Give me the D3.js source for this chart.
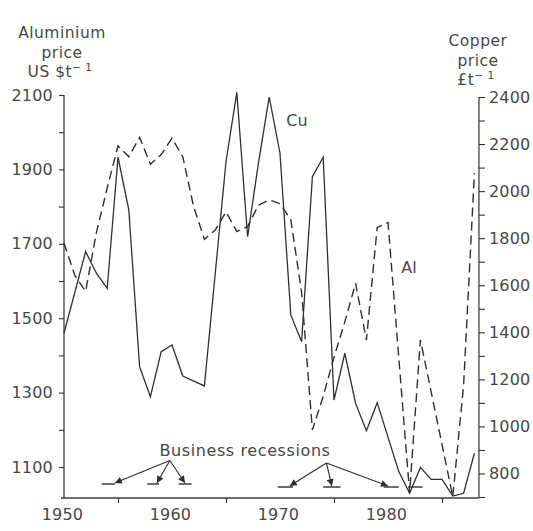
<!DOCTYPE html>
<html>
<head>
<meta charset="utf-8">
<script src="https://cdn.jsdelivr.net/npm/d3@7"></script>
<style>
  html, body { margin: 0; padding: 0; background: #fff; }
  svg { display: block; }
  text { font-family: "DejaVu Sans", "Liberation Sans", sans-serif; fill: #474747; }
</style>
</head>
<body>
<svg id="chart" width="533" height="531"></svg>
<script>
// Copper price (£ per tonne), read on the right-hand axis
const cuYears = [1950, 1952, 1953, 1954, 1955, 1956, 1957, 1958, 1959, 1960, 1961, 1963, 1965, 1966, 1967, 1968, 1969, 1970, 1971, 1972, 1973, 1974, 1975, 1976, 1977, 1978, 1979, 1981, 1982, 1983, 1984, 1985, 1986, 1987, 1988];
const cuPrice = [1396, 1743, 1651, 1587, 2144, 1920, 1254, 1126, 1318, 1346, 1214, 1172, 2125, 2420, 1806, 2118, 2400, 2161, 1474, 1360, 2061, 2144, 1112, 1311, 1098, 982, 1101, 808, 716, 826, 775, 775, 704, 716, 886];

// Aluminium price (US $ per tonne), read on the left-hand axis
const alYears = [1950, 1951, 1952, 1953, 1954, 1955, 1956, 1957, 1958, 1959, 1960, 1961, 1962, 1963, 1964, 1965, 1966, 1967, 1968, 1969, 1970, 1971, 1972, 1973, 1974, 1975, 1976, 1977, 1978, 1979, 1980, 1982, 1983, 1986, 1987, 1988];
const alPrice = [1702, 1615, 1572, 1730, 1850, 1963, 1934, 1986, 1914, 1940, 1984, 1934, 1800, 1712, 1737, 1786, 1733, 1746, 1804, 1818, 1808, 1765, 1570, 1200, 1290, 1395, 1490, 1594, 1441, 1744, 1757, 1030, 1442, 1020, 1320, 1890];

// Business recessions (years)
const recessionStart  = [1953.5, 1957.7, 1960.6, 1969.8, 1974.0, 1979.6, 1981.9];
const recessionEnd    = [1954.7, 1958.8, 1961.8, 1971.2, 1975.6, 1981.0, 1983.2];
const recessionArrow  = [1954.7, 1958.6, 1961.2, 1970.9, 1974.8, 1980.0, null];
const recessionGroup  = [0, 0, 0, 1, 1, 1, 1];
const groupApexYear   = [1959.8, 1974.3];

// Axis ticks and labels
const xLabelYears = [1950, 1960, 1970, 1980];
const xMinorYears = [1955, 1965, 1975, 1985];
const alTicks  = d3.range(1100, 2101, 100);
const alLabels = [1100, 1300, 1500, 1700, 1900, 2100];
const cuTicks  = d3.range(700, 2401, 100);
const cuLabels = [800, 1000, 1200, 1400, 1600, 1800, 2000, 2200, 2400];

const svg = d3.select("#chart");
const ink = "#2f2f2f";
const textInk = "#474747";

const x   = d3.scaleLinear().domain([1950, 1988]).range([64, 474.4]);
const yAl = d3.scaleLinear().domain([1100, 2100]).range([467, 95]);
const yCu = d3.scaleLinear().domain([800, 2400]).range([473.5, 97]);

const leftX = x(1950);
const rightX = x(1988.42);
const baseY = 498;

// axis lines
svg.append("line").attr("x1", leftX).attr("x2", leftX).attr("y1", yAl(2100)).attr("y2", baseY)
  .attr("stroke", ink).attr("stroke-width", 1.2);
svg.append("line").attr("x1", rightX).attr("x2", rightX).attr("y1", yCu(2400)).attr("y2", baseY)
  .attr("stroke", ink).attr("stroke-width", 1.2);
svg.append("line").attr("x1", leftX - 3).attr("x2", rightX).attr("y1", baseY).attr("y2", baseY)
  .attr("stroke", "#3a4048").attr("stroke-width", 1.4);

function styleAxis(g) {
  g.select(".domain").remove();
  g.selectAll(".tick line").attr("stroke", ink).attr("stroke-width", 1.1);
  g.selectAll(".tick text").attr("font-size", 16).attr("fill", textInk)
    .attr("font-family", "DejaVu Sans, sans-serif").style("letter-spacing", "0.2px");
}

// left axis (aluminium)
svg.append("g").attr("transform", `translate(${leftX},0)`)
  .call(d3.axisLeft(yAl).tickValues(alTicks).tickSize(5).tickPadding(6)
    .tickFormat(d => alLabels.includes(d) ? d : ""))
  .call(styleAxis);

// right axis (copper)
svg.append("g").attr("transform", `translate(${rightX},0)`)
  .call(d3.axisRight(yCu).tickValues(cuTicks).tickSize(6).tickPadding(4)
    .tickFormat(d => cuLabels.includes(d) ? d : ""))
  .call(styleAxis);

// bottom axis: minor ticks and year labels
svg.append("g").attr("transform", `translate(0,${baseY})`)
  .call(d3.axisBottom(x).tickValues(xMinorYears).tickSize(5).tickFormat(""))
  .call(styleAxis);
svg.append("g").attr("transform", `translate(0,${baseY})`)
  .call(d3.axisBottom(x).tickValues(xLabelYears).tickSize(0).tickPadding(11).tickFormat(d3.format("d")))
  .call(styleAxis)
  .call(g => g.selectAll(".tick text").attr("dx", -2));

// price lines
const cuData = cuYears.map((yr, i) => ({ yr, v: cuPrice[i] }));
const alData = alYears.map((yr, i) => ({ yr, v: alPrice[i] }));

svg.append("path").datum(alData)
  .attr("d", d3.line().x(d => x(d.yr)).y(d => yAl(d.v)))
  .attr("fill", "none").attr("stroke", ink).attr("stroke-width", 1.4)
  .attr("stroke-dasharray", "9,5");

svg.append("path").datum(cuData)
  .attr("d", d3.line().x(d => x(d.yr)).y(d => yCu(d.v)))
  .attr("fill", "none").attr("stroke", ink).attr("stroke-width", 1.3)
  .attr("stroke-linejoin", "miter");

// series labels
svg.append("text").attr("x", 297).attr("y", 126).attr("text-anchor", "middle")
  .attr("font-size", 16).text("Cu");
svg.append("text").attr("x", 409).attr("y", 273).attr("text-anchor", "middle")
  .attr("font-size", 16).text("Al");

// axis titles
const leftTitle = svg.append("text").attr("text-anchor", "middle").attr("font-size", 15.5)
  .style("letter-spacing", "0.5px");
leftTitle.append("tspan").attr("x", 62).attr("y", 38).text("Aluminium");
leftTitle.append("tspan").attr("x", 62).attr("y", 58).text("price");
leftTitle.append("tspan").attr("x", 60).attr("y", 77).text("US $t");
leftTitle.append("tspan").attr("font-size", 10.5).attr("dy", -6).text("\u2212 1");

const rightTitle = svg.append("text").attr("text-anchor", "middle").attr("font-size", 15.5)
  .style("letter-spacing", "0.5px");
rightTitle.append("tspan").attr("x", 478).attr("y", 46).text("Copper");
rightTitle.append("tspan").attr("x", 478).attr("y", 66).text("price");
rightTitle.append("tspan").attr("x", 476).attr("y", 85).text("£t");
rightTitle.append("tspan").attr("font-size", 10.5).attr("dy", -6).text("\u2212 1");

// business recessions annotation
svg.append("defs").append("marker")
  .attr("id", "head").attr("viewBox", "0 0 10 10").attr("refX", 10).attr("refY", 5)
  .attr("markerWidth", 8).attr("markerHeight", 7).attr("markerUnits", "userSpaceOnUse")
  .attr("orient", "auto")
  .append("path").attr("d", "M0,0 L10,5 L0,10 z").attr("fill", ink);

svg.append("text").attr("x", 245).attr("y", 456).attr("text-anchor", "middle")
  .attr("font-size", 16).style("letter-spacing", "0.6px").text("Business recessions");

const apexY = [460.5, 463];
const barY = [484, 487];

recessionStart.forEach((s, i) => {
  const g = recessionGroup[i];
  svg.append("line")
    .attr("x1", x(s)).attr("x2", x(recessionEnd[i]))
    .attr("y1", barY[g]).attr("y2", barY[g])
    .attr("stroke", ink).attr("stroke-width", 1.4);
  if (recessionArrow[i] !== null) {
    svg.append("line")
      .attr("x1", x(groupApexYear[g])).attr("y1", apexY[g])
      .attr("x2", x(recessionArrow[i])).attr("y2", barY[g] - 1)
      .attr("stroke", ink).attr("stroke-width", 1.1)
      .attr("marker-end", "url(#head)");
  }
});
</script>
</body>
</html>
